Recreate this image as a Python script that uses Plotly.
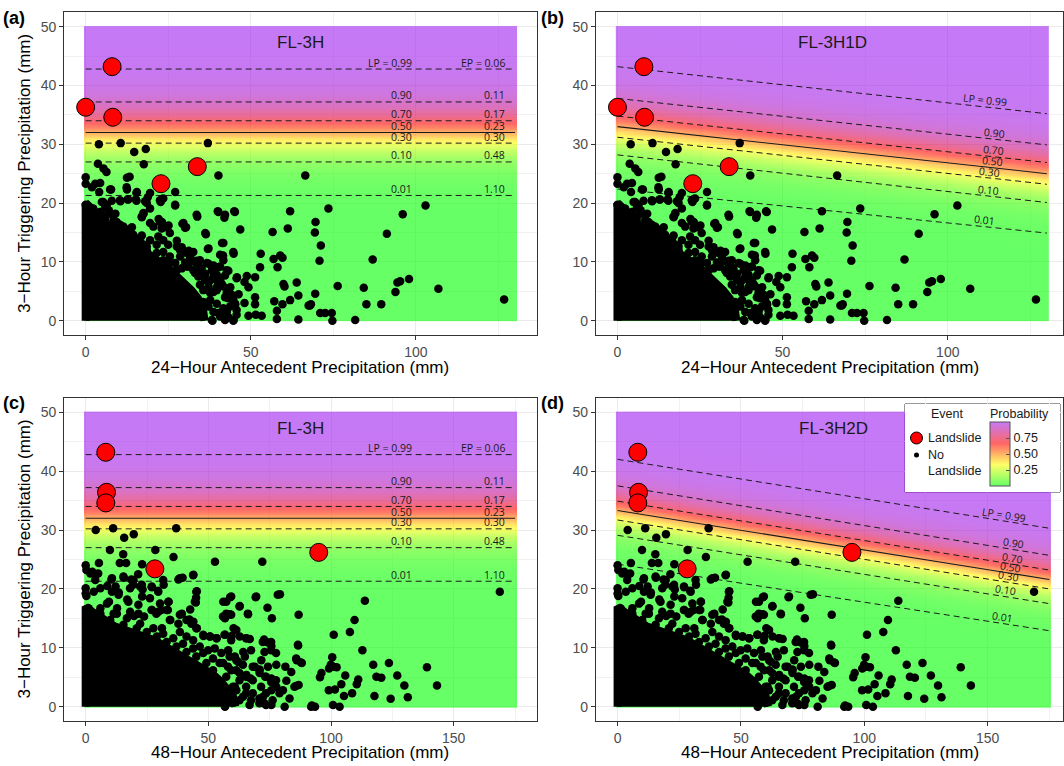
import numpy as np
import plotly.graph_objects as go

W, H = 1064, 766

# ------------------------------------------------------------------ data
# 24-hour antecedent dataset (panels a, b): "No Landslide" points outside the solid mass
ant24_x = [4.0, 10.6, 37.0, 14.7, 18.2, 17.6, 3.7, 5.4, 6.3, 40.2, 66.5, 12.5, 13.3, 0.0, 0.0, 1.9, 2.9, 4.4,
           4.1, 7.7, 12.5, 15.5, 27.1, 10.5, 12.7, 15.2, 18.0, 18.8, 22.7, 23.1, 27.1, 5.9, 4.9, 7.0, 9.0, 17.5,
           17.0, 33.8, 40.0, 42.0, 45.0, 22.1, 23.1, 24.1, 25.1, 29.3, 30.1, 12.0, 14.0, 17.0, 46.8, 56.6, 61.2,
           61.9, 36.4, 41.3, 37.0, 27.6, 29.1, 31.2, 31.7, 30.1, 33.7, 44.8, 53.0, 41.6, 56.9, 58.9, 59.6, 52.8,
           58.1, 37.2, 38.7, 40.2, 34.2, 35.2, 36.2, 37.7, 43.2, 42.2, 45.8, 48.8, 51.3, 48.1, 49.3, 59.9, 60.2,
           63.9, 39.7, 41.2, 43.8, 46.3, 42.2, 51.3, 61.9, 64.4, 48.1, 51.3, 45.3, 57.1, 59.6, 67.9, 42.7, 51.5,
           57.9, 57.9, 64.4, 44.8, 40.7, 38.4, 43.2, 49.3, 53.3,
           73.5, 102.9, 96.0, 69.6, 69.4, 71.2, 70.8, 91.2, 86.9, 76.3, 84.2, 97.9, 94.4, 95.2, 93.8, 106.8,
           126.7, 69.5, 67.5, 68.2, 71.0, 72.5, 74.5, 74.7, 85.0, 89.5, 81.6]
ant24_y = [30.0, 30.2, 30.2, 28.7, 29.2, 26.6, 26.7, 25.9, 25.3, 24.7, 24.7, 24.3, 24.5, 24.4, 23.3, 22.7, 23.3, 23.4,
           21.9, 22.3, 22.3, 21.9, 21.9, 20.3, 20.6, 20.6, 20.3, 21.0, 20.2, 20.7, 19.6, 19.3, 20.2, 18.8, 18.2, 18.2,
           17.6, 17.7, 18.6, 17.5, 18.6, 17.3, 16.8, 15.9, 16.2, 16.5, 15.8, 15.6, 15.9, 14.5, 15.5, 15.1, 15.7,
           18.6, 14.7, 13.2, 12.2, 13.6, 12.5, 11.9, 10.8, 9.9, 10.2, 11.4, 11.4, 11.1, 10.5, 11.1, 10.7, 9.1,
           9.1, 9.7, 9.4, 9.1, 9.1, 8.2, 8.0, 6.9, 8.5, 7.7, 7.4, 7.6, 7.4, 6.6, 5.7, 6.25, 5.8,
           6.5, 5.7, 6.25, 5.7, 4.5, 4.0, 4.0, 3.5, 4.3, 3.0, 2.8, 2.8, 3.3, 2.8, 2.6, 1.7, 1.0,
           1.7, 0.3, 0.2, 0.1, 0.85, 0.0, 0.6, 0.85, 0.85,
           19.1, 19.6, 18.1, 16.8, 15.0, 12.8, 10.2, 14.8, 10.4, 5.9, 5.6, 7.1, 6.5, 6.7, 4.9, 5.45,
           3.6, 4.6, 2.6, 2.8, 1.3, 1.3, 1.3, 0.0, 2.8, 2.8, 0.1]
# points crowding the edge of the solid mass (24-hour)
fringe24_x = [7.4, 12.4, 15.4, 19.5, 5.3, 6.4, 7.9, 10.4, 12.9, 15.4, 18.5, 19.5, 17.5, 17.0, 22.5, 23.5, 27.1,
              2.3, 2.8, 8.4, 9.4, 5.8, 19.5, 20.5, 22.5, 23.0, 25.5, 29.6, 30.4, 33.6, 40.2, 42.2, 45.2, 36.2,
              41.7, 37.2, 11.4, 13.4, 15.4, 17.5, 18.5, 21.5, 23.5, 25.5, 28.6, 30.6, 32.6, 31.6, 27.1, 29.1,
              31.1, 33.6, 35.1, 33.1, 40.7, 41.7, 40.7, 42.7, 44.7, 45.7, 38.7, 39.7, 41.2, 37.2, 38.7, 34.6,
              35.6, 42.7, 43.2, 37.7, 39.7, 41.7, 45.2, 45.7, 38.2, 42.2, 44.7, 40.2, 22.0, 19.5, 23.5, 25.0,
              27.6, 29.6, 28.6, 31.6, 33.1, 34.6, 36.7, 38.2, 39.7, 40.7, 41.7, 43.2, 44.2, 44.7, 43.7, 42.7,
              45.7, 40.7, 38.7, 37.2, 35.6, 37.7, 39.7, 36.2, 34.1, 32.6, 30.6, 27.6, 25.5, 23.5, 21.5, 18.5,
              16.5, 14.4, 12.4, 10.4, 8.4, 6.4, 4.3, 2.3, 0.0]
fringe24_y = [22.3, 22.7, 21.7, 21.7, 20.2, 19.7, 20.4, 20.5, 20.6, 20.4, 20.0, 19.1, 18.3, 17.7, 20.5, 20.8, 19.7,
              18.3, 17.1, 18.0, 16.8, 17.2, 16.6, 16.0, 16.8, 15.7, 14.9, 16.6, 15.9, 18.0, 18.5, 18.0, 18.5, 14.9,
              13.2, 12.3, 16.0, 14.9, 14.0, 12.9, 12.0, 12.9, 11.7, 10.9, 12.0, 11.5, 11.7, 10.3, 9.8, 8.9,
              9.2, 9.8, 8.9, 8.1, 11.2, 10.3, 9.2, 8.6, 11.7, 7.2, 7.5, 6.9, 6.1, 5.8, 4.9, 6.1,
              5.2, 4.7, 3.8, 3.5, 2.9, 2.1, 2.9, 1.8, 0.1, 0.1, 0.0, 1.3, 14.3, 13.7, 13.7, 12.9,
              12.6, 11.7, 10.9, 11.2, 10.0, 10.3, 9.8, 8.6, 7.8, 6.9, 5.8, 5.2, 4.4, 3.5, 2.4, 1.5,
              1.0, 0.7, 1.5, 2.4, 3.2, 4.7, 5.2, 6.9, 7.5, 8.6, 9.2, 8.6, 9.8, 10.3, 11.5, 12.6,
              13.7, 14.6, 15.4, 16.3, 17.1, 18.0, 18.5, 19.1, 19.7]
# outline of the solid mass of overlapping points (24-hour)
core24_x = [0, 0, 2, 4, 6, 8, 10, 12, 14, 16, 18, 20, 22, 24, 26, 28, 30, 32, 34, 35.5, 36]
core24_y = [0, 20, 19, 17.5, 16.5, 15.8, 15, 14, 13.2, 12.6, 12, 11.2, 10.3, 9.5, 8.5, 7.3, 6.3, 5.2, 3.8, 2, 0]
slide24_x = [0.0, 8.0, 8.2, 22.8, 33.8]
slide24_y = [36.3, 43.2, 34.6, 23.3, 26.2]

# 48-hour antecedent dataset (panels c, d)
ant48_x = [4.1, 11.2, 36.9, 15.7, 19.6, 9.9, 15.3, 28.4, 35.8, 52.7, 72.0, 0.0, 0.3, 5.4, 13.9, 16.5, 23.0, 2.7,
           4.1, 5.1, 21.4, 10.5, 15.5, 18.6, 37.8, 39.5, 43.9, 8.8, 12.2, 19.3, 27.0, 29.5, 31.8, 45.3, 0.0, 0.3,
           13.5, 23.2, 23.0, 45.0, 44.9, 58.9, 69.3, 79.2, 56.1, 16.9, 33.8, 9.5, 12.8, 42.6, 62.8, 74.1, 66.2,
           58.8, 56.8, 75.9, 86.8, 39.2, 19.7, 23.8, 27.0, 28.8, 30.8, 33.5, 34.5, 37.8, 42.3, 43.9, 31.1, 45.3,
           60.3, 48.0, 50.7, 53.4, 66.9, 72.7, 74.3, 75.7, 86.5, 85.8, 87.8, 71.6, 64.2, 64.9, 68.9, 70.9, 74.3,
           77.7, 81.4, 83.8, 65.5, 67.2, 70.9, 73.2, 81.8, 86.8, 85.1, 75.7, 77.7, 83.1, 81.1, 91.9,
           56.8, 59.5, 62.8, 65.5, 58.1, 60.8, 62.2, 75.7, 77.0, 79.0, 80.4, 72.3, 75.7, 60.8, 58.1, 60.8, 56.8,
           168.8, 113.8, 109.6, 107.7, 101.1, 112.8, 86.6, 86.0, 88.1, 100.5, 99.9, 100.9, 102.3, 99.2, 117.2,
           123.6, 139.1, 96.1, 95.5, 105.8, 111.1, 110.5, 118.5, 120.5, 127.0, 104.2, 85.7, 129.9, 143.2, 108.6,
           105.3, 99.1, 101.6, 117.7, 124.3, 131.3, 100.8, 103.5, 92.2, 93.5]
ant48_y = [30.0, 30.3, 30.3, 28.7, 29.3, 26.6, 25.9, 26.6, 25.4, 24.6, 24.6, 24.0, 23.2, 24.4, 24.4, 24.4, 24.2, 22.9,
           22.4, 22.6, 22.5, 21.6, 21.9, 21.6, 21.6, 21.9, 22.4, 20.5, 20.4, 20.7, 20.3, 19.7, 20.7, 19.6, 20.1, 18.8,
           19.4, 19.9, 18.7, 18.5, 17.7, 18.6, 18.6, 19.1, 17.8, 18.2, 17.8, 17.8, 16.7, 16.5, 17.1, 16.8, 15.7,
           15.7, 15.0, 15.0, 15.6, 15.8, 15.4, 15.3, 16.4, 15.8, 16.4, 16.4, 14.7, 14.1, 14.8, 14.4, 13.3, 13.3,
           13.3, 12.0, 11.9, 11.6, 11.5, 11.4, 10.9, 10.3, 10.5, 8.2, 7.5, 7.9, 9.3, 8.5, 6.8, 6.3, 6.8,
           7.1, 6.8, 5.9, 5.4, 4.8, 5.7, 5.1, 4.4, 3.7, 3.4, 2.8, 3.4, 1.4, 0.0, 0.0,
           12.2, 12.0, 11.9, 11.6, 9.6, 8.5, 7.6, 4.8, 4.2, 2.3, 2.8, 1.7, 0.3, 3.4, 1.7, 0.85, 0.0,
           19.5, 18.0, 14.7, 12.7, 12.2, 9.6, 10.4, 7.9, 7.4, 8.4, 7.1, 6.8, 6.7, 6.5, 7.1,
           7.4, 6.7, 5.7, 5.0, 5.3, 4.6, 3.8, 5.1, 4.9, 5.3, 3.8, 3.5, 3.6, 3.6, 2.3,
           1.8, 2.8, 2.9, 1.8, 1.35, 1.6, 0.3, 0.0, 0.2, 0.0]
fringe48_x = [1.9, 3.9, 10.7, 15.4, 19.5, 22.9, 38.4, 43.8, 0.0, 3.3, 6.0, 10.7, 13.4, 18.1, 22.2, 26.9, 29.6,
              31.6, 17.4, 21.5, 26.2, 30.3, 33.7, 45.1, 44.5, 57.3, 62.7, 59.3, 69.5, 78.3, 66.1, 59.3, 8.7, 6.0,
              12.7, 18.1, 21.5, 26.9, 29.6, 33.0, 34.3, 38.4, 41.1, 43.1, 45.1, 47.9, 50.6, 53.3, 56.6, 59.3,
              61.4, 65.4, 67.4, 72.2, 75.6, 72.9, 75.6, 77.6, 38.4, 41.1, 43.8, 46.5, 49.9, 52.6, 55.3, 58.7,
              61.4, 54.6, 58.0, 64.1, 68.1, 62.7, 65.4, 68.1, 70.8, 73.5, 75.6, 71.5, 73.5, 76.2, 65.4, 67.4,
              70.8, 73.5, 61.4, 62.7, 77.6, 56.0, 57.3,
              11.4, 16.8, 22.2, 27.6, 31.6, 35.7, 39.7, 43.8, 47.9, 51.9, 56.0, 59.3, 62.7, 65.4, 68.1, 70.8,
              72.8, 61.4, 57.3, 60.0, 64.1, 66.8, 51.9, 49.2, 45.1, 41.1, 37.0, 33.0, 29.0, 24.9, 20.8, 15.4,
              10.0, 4.6, 1.2, 6.0]
fringe48_y = [22.6, 21.5, 21.8, 22.1, 21.5, 20.7, 21.8, 22.3, 19.2, 19.5, 20.1, 19.5, 19.0, 20.1, 20.4, 20.4, 19.5,
              21.5, 17.8, 17.3, 18.4, 17.5, 17.8, 19.5, 17.8, 17.8, 17.0, 18.7, 18.7, 19.0, 15.8, 15.6, 17.5, 15.8,
              15.8, 16.1, 15.8, 16.4, 16.1, 16.4, 14.7, 15.6, 14.7, 14.1, 13.3, 12.2, 11.9, 11.6, 12.2, 11.3,
              13.0, 11.6, 9.6, 11.0, 11.0, 9.3, 9.6, 9.1, 12.7, 11.9, 11.3, 10.2, 9.6, 9.9, 9.1, 8.5,
              7.9, 7.4, 6.8, 7.1, 6.8, 5.7, 5.1, 4.5, 6.2, 5.1, 4.2, 3.4, 2.3, 1.1, 2.3, 1.1,
              0.6, 0.3, 2.8, 1.1, 4.5, 15.3, 15.8,
              15.8, 15.0, 14.1, 13.3, 12.4, 11.6, 10.7, 9.9, 9.1, 8.2, 7.4, 6.2, 4.5, 3.4, 2.3, 1.4,
              0.6, 6.2, 5.1, 3.4, 1.7, 0.3, 6.2, 7.4, 8.5, 9.3, 10.2, 11.0, 11.9, 12.7, 13.3, 13.9,
              14.7, 15.8, 16.7, 16.7]
core48_x = [0, 0, 3, 6, 9, 12, 16, 20, 24, 28, 32, 36, 40, 44, 48, 52, 55, 58, 60, 61]
core48_y = [0, 17, 16, 15.2, 14.3, 13.6, 13, 12.5, 12, 11.3, 10.3, 9.3, 8.5, 7.5, 6.5, 5.4, 4.3, 3, 1.8, 0]
slide48_x = [8.2, 8.5, 8.2, 28.2, 95.0]
slide48_y = [43.2, 36.4, 34.6, 23.4, 26.2]

# probability contour levels and their positions (y at x=0 and at right edge)
lp_labels = ["0.01", "0.10", "0.30", "0.50", "0.70", "0.90", "0.99"]
ep_labels = ["1.10", "0.48", "0.30", "0.23", "0.17", "0.11", "0.06"]
lines_3h = [21.3, 27.0, 30.2, 32.0, 34.0, 37.2, 42.8]
lines_1d_start = [22.4, 28.2, 31.2, 33.0, 34.8, 37.8, 43.2]
lines_1d_end = [14.9, 20.1, 23.2, 25.0, 26.9, 29.9, 35.2]
lines_2d_start = [24.2, 29.1, 31.7, 33.3, 34.9, 37.5, 42.0]
lines_2d_end = [12.9, 17.5, 20.0, 21.6, 23.2, 25.7, 30.3]
label_x_1d = [111.2, 112.2, 112.7, 113.4, 113.7, 114.2, 111.2]
label_x_2d = [156.0, 157.4, 158.3, 159.2, 160.0, 160.5, 156.7]

titles = ["FL-3H", "FL-3H1D", "FL-3H", "FL-3H2D"]
xmaxes = [130, 130, 175, 175]

# ------------------------------------------------------------------ layout helpers
def px_x(p):
    return p / W


def px_y(p):
    return (H - p) / H


LEFT = [64.2 / W, 536.5 / W]
RIGHT = [596 / W, 1063 / W]
TOP = [px_y(335.4), px_y(12)]
BOT = [px_y(721.4), px_y(397.5)]
ranges_x = [[-6.5, 136.5], [-6.5, -6.5 + 467 / 3.303], [-8.75, 183.75], [-8.75, -8.75 + 467 / 2.467]]
doms = [(LEFT, TOP), (RIGHT, TOP), (LEFT, BOT), (RIGHT, BOT)]

alpha = 0.6
cscale = [[0.0, f"rgba(0,255,0,{alpha})"], [1 / 3, f"rgba(255,255,0,{alpha})"],
          [2 / 3, f"rgba(255,0,0,{alpha})"], [1.0, f"rgba(160,32,240,{alpha})"]]

pts24_x, pts24_y = ant24_x + fringe24_x, ant24_y + fringe24_y
pts48_x, pts48_y = ant48_x + fringe48_x, ant48_y + fringe48_y

panels = [
    dict(start=lines_3h, end=lines_3h, flat=True, px=pts24_x, py=pts24_y, cx=core24_x, cy=core24_y,
         sx=slide24_x, sy=slide24_y),
    dict(start=lines_1d_start, end=lines_1d_end, flat=False, px=pts24_x, py=pts24_y, cx=core24_x, cy=core24_y,
         sx=slide24_x, sy=slide24_y, lx=label_x_1d),
    dict(start=lines_3h, end=lines_3h, flat=True, px=pts48_x, py=pts48_y, cx=core48_x, cy=core48_y,
         sx=slide48_x, sy=slide48_y),
    dict(start=lines_2d_start, end=lines_2d_end, flat=False, px=pts48_x, py=pts48_y, cx=core48_x, cy=core48_y,
         sx=slide48_x, sy=slide48_y, lx=label_x_2d),
]

fig = go.Figure()
annotations = []
shapes = []
LOGIT99 = np.log(0.99 / 0.01)

for i, pn in enumerate(panels):
    ax = "" if i == 0 else str(i + 1)
    xr, yr = "x" + ax, "y" + ax
    xmax = xmaxes[i]
    s0, s1 = np.array(pn["start"]), np.array(pn["end"])
    # logistic surface fitted to the read contour lines
    y50_0, y50_1 = s0[3], s1[3]
    k = 2 * LOGIT99 / ((s0[6] - s0[0] + s1[6] - s1[0]) / 2)
    gx = np.linspace(0, xmax, 131)
    gy = np.linspace(0, 50, 251)
    XX, YY = np.meshgrid(gx, gy)
    y50 = y50_0 + (y50_1 - y50_0) * XX / xmax
    Z = 1 / (1 + np.exp(-k * (YY - y50)))
    hm = dict(x=gx, y=gy, z=Z, zmin=0, zmax=1, colorscale=cscale, zsmooth="best",
              hoverinfo="skip", xaxis=xr, yaxis=yr, showscale=(i == 3))
    if i == 3:
        hm["colorbar"] = dict(x=990 / W, xanchor="left", y=px_y(486), yanchor="bottom",
                              len=64, lenmode="pixels", thickness=20, thicknessmode="pixels",
                              tickvals=[0.25, 0.5, 0.75], ticktext=["0.25", "0.50", "0.75"],
                              ticks="inside", ticklen=4, tickcolor="#555555",
                              tickfont=dict(family="Liberation Sans", size=12.5, color="#1a1a1a"),
                              outlinewidth=1, outlinecolor="#555555", xpad=0, ypad=0)
    fig.add_trace(go.Heatmap(**hm))

    # contour lines
    for j in range(7):
        fig.add_trace(go.Scatter(x=[0, xmax], y=[s0[j], s1[j]], mode="lines", xaxis=xr, yaxis=yr,
                                 line=dict(color="#1a1a1a", width=1.1 if j == 3 else 1,
                                           dash="solid" if j == 3 else "6px,4px"),
                                 hoverinfo="skip", showlegend=False))

    # dense core of overlapping points
    fig.add_trace(go.Scatter(x=pn["cx"], y=pn["cy"], mode="lines", fill="toself", fillcolor="black",
                             line=dict(color="black", width=8), xaxis=xr, yaxis=yr,
                             hoverinfo="skip", showlegend=False))
    fig.add_trace(go.Scatter(x=pn["px"], y=pn["py"], mode="markers", xaxis=xr, yaxis=yr,
                             marker=dict(color="black", size=8.5), hoverinfo="skip", showlegend=False))
    fig.add_trace(go.Scatter(x=pn["sx"], y=pn["sy"], mode="markers", xaxis=xr, yaxis=yr,
                             marker=dict(color="#ff0000", size=18, line=dict(color="black", width=1)),
                             hoverinfo="skip", showlegend=False))

    # contour labels
    lab_font = dict(family="Open Sans", size=10.5, color="#1a1a1a")
    if pn["flat"]:
        for j in range(7):
            t1 = "LP = " + lp_labels[j] if j == 6 else lp_labels[j]
            t2 = "EP = " + ep_labels[j] if j == 6 else ep_labels[j]
            annotations.append(dict(x=0.762 * xmax, y=s0[j], xref=xr, yref=yr, text=t1, showarrow=False,
                                    xanchor="right", yanchor="bottom", yshift=-1.5, borderpad=0, font=lab_font))
            annotations.append(dict(x=0.98 * xmax, y=s0[j], xref=xr, yref=yr, text=t2, showarrow=False,
                                    xanchor="right", yanchor="bottom", yshift=-1.5, borderpad=0, font=lab_font))
    else:
        xa = ranges_x[i]
        dom = doms[i]
        ppx = (dom[0][1] - dom[0][0]) * W / (xa[1] - xa[0])
        ppy = (dom[1][1] - dom[1][0]) * H / 55.0
        slope = (s1[3] - s0[3]) / xmax
        ang = float(np.degrees(np.arctan(-slope * ppy / ppx)))
        for j in range(7):
            lx = pn["lx"][j]
            ly = s0[j] + (s1[j] - s0[j]) * lx / xmax + 1.1
            t1 = "LP = " + lp_labels[j] if j == 6 else lp_labels[j]
            annotations.append(dict(x=lx, y=ly, xref=xr, yref=yr, text=t1, showarrow=False, borderpad=0,
                                    xanchor="center", yanchor="middle", textangle=ang, font=lab_font))

    # panel title
    annotations.append(dict(x=xmax / 2, y=47.3, xref=xr, yref=yr, text=titles[i], showarrow=False,
                            font=dict(family="Liberation Sans", size=17, color="#1a1a1a")))

# ------------------------------------------------------------------ axes
axis_common = dict(showline=True, mirror=True, linecolor="#333333", linewidth=1.1,
                   ticks="outside", ticklen=4, tickcolor="#333333", tickwidth=1,
                   tickfont=dict(family="Liberation Sans", size=14, color="#4d4d4d"),
                   showgrid=True, gridcolor="#ebebeb", gridwidth=1.2, zeroline=False, fixedrange=True)
for i in range(4):
    ax = "" if i == 0 else str(i + 1)
    dx, dy = doms[i]
    fig.update_layout(**{
        "xaxis" + ax: dict(axis_common, domain=dx, range=ranges_x[i], tick0=0, dtick=50,
                           anchor="y" + ax, minor=dict(dtick=25, showgrid=True, gridcolor="#f2f2f2", gridwidth=0.7)),
        "yaxis" + ax: dict(axis_common, domain=dy, range=[-2.5, 52.5], tick0=0, dtick=10,
                           anchor="x" + ax, minor=dict(dtick=5, showgrid=True, gridcolor="#f2f2f2", gridwidth=0.7)),
    })

# ------------------------------------------------------------------ legend (manual)
LG = [905, 404, 1060, 492]
fig.update_layout(
    xaxis5=dict(domain=[LG[0] / W, LG[2] / W], range=[LG[0], LG[2]], visible=False, fixedrange=True,
                anchor="y5"),
    yaxis5=dict(domain=[px_y(LG[3]), px_y(LG[1])], range=[LG[3], LG[1]], visible=False, fixedrange=True,
                anchor="x5"),
)
shapes.append(dict(type="rect", xref="paper", yref="paper", x0=px_x(LG[0]), x1=px_x(LG[2]),
                   y0=px_y(LG[3]), y1=px_y(LG[1]), line=dict(color="#333333", width=1),
                   fillcolor="white", layer="below"))
fig.add_trace(go.Scatter(x=[916.5], y=[438], mode="markers", xaxis="x5", yaxis="y5",
                         marker=dict(color="#ff0000", size=12, line=dict(color="black", width=1)),
                         hoverinfo="skip", showlegend=False))
fig.add_trace(go.Scatter(x=[916.5], y=[455], mode="markers", xaxis="x5", yaxis="y5",
                         marker=dict(color="black", size=5), hoverinfo="skip", showlegend=False))
lf = dict(family="Liberation Sans", size=12.5, color="#1a1a1a")
for txt, xx, yy, anc in [("Event", 947, 414, "center"), ("Probability", 1019, 414, "center"),
                         ("Landslide", 926, 438, "left"), ("No", 926, 455, "left"),
                         ("Landslide", 926, 471, "left")]:
    annotations.append(dict(x=px_x(xx), y=px_y(yy), xref="paper", yref="paper", text=txt, showarrow=False,
                            xanchor=anc, yanchor="middle", font=lf))

# ------------------------------------------------------------------ titles / labels
tf = dict(family="Liberation Sans", size=17, color="black")
xt24 = "24\u2212Hour Antecedent Precipitation (mm)"
xt48 = "48\u2212Hour Antecedent Precipitation (mm)"
yt = "3\u2212Hour Triggering Precipitation (mm)"
for txt, xx, yy, ang in [(xt24, 300, 368, 0), (xt24, 830, 368, 0), (xt48, 300, 752, 0), (xt48, 830, 752, 0),
                         (yt, 24, 174, -90), (yt, 24, 559.5, -90)]:
    annotations.append(dict(x=px_x(xx), y=px_y(yy), xref="paper", yref="paper", text=txt, showarrow=False,
                            xanchor="center", yanchor="middle", textangle=ang, font=tf))
pf = dict(family="Liberation Sans", size=18, color="black")
for txt, xx, yy in [("<b>(a)</b>", 1, 18), ("<b>(b)</b>", 539, 18), ("<b>(c)</b>", 1, 403), ("<b>(d)</b>", 539, 403)]:
    annotations.append(dict(x=px_x(xx), y=px_y(yy), xref="paper", yref="paper", text=txt, showarrow=False,
                            xanchor="left", yanchor="middle", font=pf))

fig.update_layout(width=W, height=H, margin=dict(l=0, r=0, t=0, b=0), paper_bgcolor="white",
                  plot_bgcolor="white", showlegend=False, annotations=annotations, shapes=shapes)
fig.write_html("out.html", config={"displayModeBar": False},
               post_script="document.body.style.margin='0px';document.body.style.overflow='hidden';")
